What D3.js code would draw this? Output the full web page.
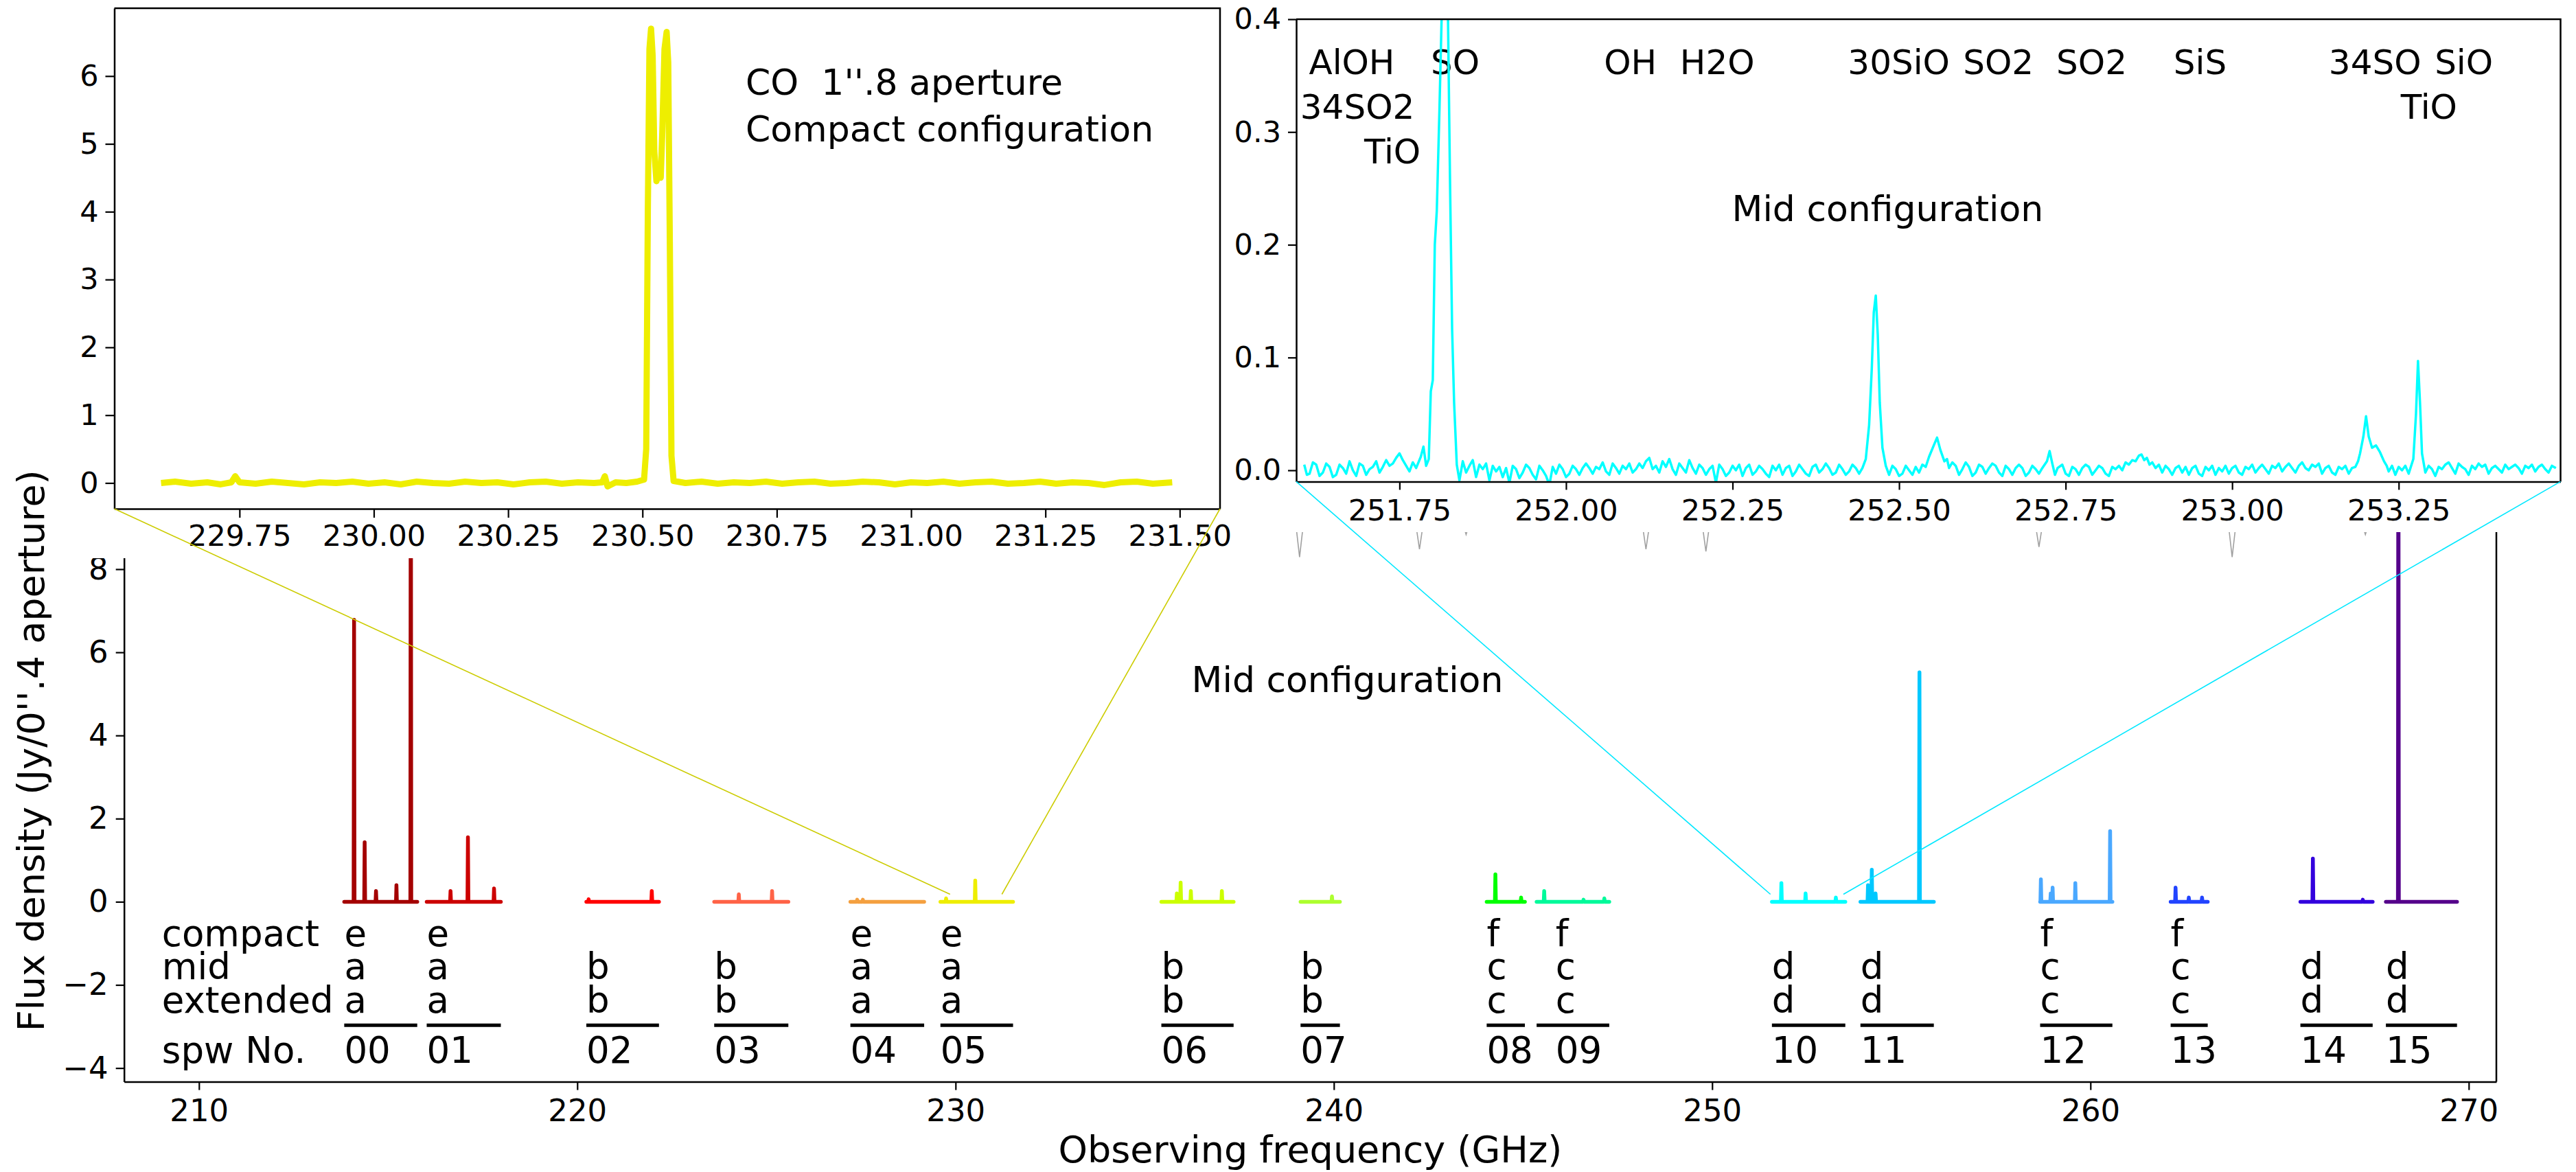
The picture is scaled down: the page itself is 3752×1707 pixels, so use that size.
<!DOCTYPE html>
<html><head><meta charset="utf-8">
<script src="https://cdn.jsdelivr.net/npm/d3@7"></script>
<style>body{margin:0;background:#fff} text{font-family:"DejaVu Sans",sans-serif}</style>
</head><body>
<script>
// ---------------- DATA ----------------
const spwNames  = ["00","01","02","03","04","05","06","07","08","09","10","11","12","13","14","15"];
const spwStart  = [213.84,216.02,220.24,223.62,227.22,229.60,235.44,239.12,244.04,245.36,251.58,253.92,258.67,262.12,265.55,267.81];
const spwEnd    = [215.77,217.98,222.16,225.58,229.17,231.52,237.35,240.16,245.05,247.28,253.52,255.86,260.58,263.10,267.46,269.69];
// frequency where each spw's table column is written
const spwLabelFreq = [213.84,216.02,220.24,223.62,227.22,229.60,235.44,239.12,244.04,245.86,251.58,253.92,258.67,262.12,265.55,267.81];
const spwColors = ["#a40000","#cc0000","#ff0000","#ff6347","#f4a040","#eeee00","#ccff00","#adff2f","#00ff00","#00fa9a","#00ffff","#00c8ff","#4aa8ff","#2244ff","#3300dd","#55008b"];
// spikes [frequency GHz, flux Jy] per spw
const spwSpikes = [
  [[214.10,6.78],[214.38,1.43],[214.68,0.26],[215.22,0.40],[215.60,14.0]],
  [[216.65,0.26],[217.11,1.55],[217.80,0.32]],
  [[220.30,0.06],[221.97,0.26]],
  [[224.27,0.18],[225.15,0.26]],
  [[227.40,0.05],[227.55,0.05]],
  [[229.75,0.08],[230.52,0.51]],
  [[235.85,0.20],[235.95,0.46],[236.22,0.26],[237.04,0.26]],
  [[239.95,0.13]],
  [[244.27,0.66],[244.95,0.10]],
  [[245.56,0.26],[246.60,0.05],[247.15,0.08]],
  [[251.83,0.45],[252.47,0.20],[253.27,0.10]],
  [[254.12,0.40],[254.22,0.77],[254.32,0.20],[255.48,5.52]],
  [[258.69,0.54],[258.95,0.20],[259.00,0.34],[259.60,0.45],[260.52,1.70]],
  [[262.25,0.34],[262.60,0.10],[262.95,0.10]],
  [[265.88,1.04],[267.20,0.05]],
  [[268.14,14.0]]
];
const compactCfg  = ["e","e","","","e","e","","","f","f","","","f","f","",""];
const midCfg      = ["a","a","b","b","a","a","b","b","c","c","d","d","c","c","d","d"];
const extendedCfg = ["a","a","b","b","a","a","b","b","c","c","d","d","c","c","d","d"];
const rowLabels   = ["compact","mid","extended","spw No."];

const mainXTicks = [210,220,230,240,250,260,270];
const mainYTicks = [-4,-2,0,2,4,6,8];

// CO inset spectrum [GHz, Jy]
const coSpectrum = [
  [229.604,0.00],[229.63,0.02],[229.66,-0.01],[229.69,0.01],[229.715,-0.02],[229.735,0.01],[229.742,0.10],[229.75,0.01],
  [229.78,-0.01],[229.81,0.02],[229.84,0.00],[229.87,-0.02],[229.90,0.01],[229.93,0.00],[229.96,0.02],[229.99,-0.01],
  [230.02,0.01],[230.05,-0.02],[230.08,0.02],[230.11,0.00],[230.14,-0.01],[230.17,0.02],[230.20,0.00],[230.23,0.01],
  [230.26,-0.02],[230.29,0.01],[230.32,0.02],[230.35,-0.01],[230.38,0.01],[230.41,0.00],[230.425,0.01],[230.43,0.10],
  [230.435,-0.05],[230.45,0.01],[230.47,0.00],[230.49,0.02],[230.503,0.05],[230.507,0.5],[230.510,4.0],[230.513,6.4],
  [230.516,6.70],[230.519,6.3],[230.522,4.9],[230.526,4.45],[230.530,4.55],[230.534,4.5],[230.537,5.2],[230.541,6.4],
  [230.545,6.65],[230.548,6.2],[230.551,3.5],[230.554,0.4],[230.558,0.03],[230.58,0.00],[230.61,0.02],[230.64,-0.01],
  [230.67,0.01],[230.70,0.00],[230.73,0.02],[230.76,-0.01],[230.79,0.01],[230.82,0.02],[230.85,-0.01],[230.88,0.00],
  [230.91,0.02],[230.94,0.01],[230.97,-0.02],[231.00,0.01],[231.03,0.00],[231.06,0.02],[231.09,-0.01],[231.12,0.01],
  [231.15,0.02],[231.18,-0.01],[231.21,0.00],[231.24,0.02],[231.27,-0.01],[231.30,0.01],[231.33,0.00],[231.36,-0.03],
  [231.39,0.01],[231.42,0.02],[231.45,-0.01],[231.486,0.01]
];
const coXTicks = [229.75,230.00,230.25,230.50,230.75,231.00,231.25,231.50];
const coYTicks = [0,1,2,3,4,5,6];

// Mid-configuration inset spectrum [GHz, Jy]
const midSpectrum = [
  [251.607,0.005],[251.611,-0.004],[251.615,-0.003],[251.620,0.007],[251.625,0.005],[251.630,-0.005],[251.635,-0.002],[251.640,0.006],
  [251.645,0.003],[251.650,-0.006],[251.655,-0.004],[251.660,0.005],[251.665,0.002],[251.670,-0.003],[251.675,0.008],[251.680,0.000],
  [251.685,-0.005],[251.690,0.006],[251.695,0.004],[251.700,-0.004],[251.705,0.001],[251.710,0.003],[251.715,0.008],[251.720,-0.002],
  [251.725,0.003],[251.730,0.009],[251.735,0.004],[251.740,0.006],[251.745,0.011],[251.750,0.015],[251.755,0.009],[251.760,0.004],
  [251.765,-0.001],[251.770,0.007],[251.775,0.002],[251.782,0.012],[251.786,0.021],[251.790,0.004],[251.794,0.010],[251.797,0.070],
  [251.800,0.080],[251.803,0.200],[251.806,0.230],[251.810,0.320],[251.814,0.420],[251.818,0.450],[251.822,0.440],[251.826,0.250],
  [251.829,0.125],[251.832,0.060],[251.836,0.005],[251.840,-0.009],[251.845,0.008],[251.850,-0.002],[251.855,0.004],[251.860,0.009],
  [251.865,-0.006],[251.870,0.005],[251.875,0.001],[251.880,0.006],[251.885,-0.009],[251.890,0.004],[251.895,-0.001],[251.900,0.003],
  [251.905,-0.006],[251.910,0.002],[251.915,-0.011],[251.920,0.004],[251.925,0.001],[251.930,-0.007],[251.935,-0.002],[251.940,0.005],
  [251.945,0.002],[251.950,-0.004],[251.955,-0.008],[251.960,0.004],[251.965,0.000],[251.970,-0.005],[251.975,-0.013],[251.980,0.003],
  [251.985,-0.003],[251.990,0.005],[251.995,0.001],[252.000,-0.006],[252.005,-0.003],[252.010,0.004],[252.015,0.001],[252.020,-0.004],
  [252.025,0.002],[252.030,0.006],[252.035,0.002],[252.040,-0.003],[252.045,0.003],[252.050,0.001],[252.055,0.007],[252.060,-0.001],
  [252.065,-0.004],[252.070,0.006],[252.075,0.002],[252.080,-0.003],[252.085,0.004],[252.090,0.001],[252.095,0.006],[252.100,-0.002],
  [252.105,0.001],[252.110,0.006],[252.115,0.002],[252.120,0.008],[252.125,0.011],[252.130,0.001],[252.135,0.004],[252.140,-0.002],
  [252.145,0.008],[252.150,0.003],[252.155,0.010],[252.160,0.001],[252.165,-0.004],[252.170,0.006],[252.175,0.002],[252.180,-0.002],
  [252.185,0.009],[252.190,0.002],[252.195,-0.003],[252.200,0.005],[252.205,0.002],[252.210,-0.004],[252.215,0.001],[252.220,0.004],
  [252.225,-0.011],[252.230,0.005],[252.235,0.001],[252.240,-0.005],[252.245,-0.002],[252.250,0.004],[252.255,0.000],[252.260,0.005],
  [252.265,-0.005],[252.270,0.002],[252.275,0.005],[252.280,-0.004],[252.285,-0.001],[252.290,0.004],[252.295,0.001],[252.300,-0.003],
  [252.305,-0.006],[252.310,0.004],[252.315,0.000],[252.320,0.005],[252.325,-0.004],[252.330,0.002],[252.335,0.004],[252.340,-0.005],
  [252.345,-0.001],[252.350,0.005],[252.355,0.001],[252.360,-0.003],[252.365,-0.005],[252.370,0.003],[252.375,0.005],[252.380,-0.002],
  [252.385,0.001],[252.390,0.006],[252.395,0.002],[252.400,-0.004],[252.405,-0.002],[252.410,0.005],[252.415,0.001],[252.420,-0.004],
  [252.425,-0.001],[252.430,0.005],[252.435,0.002],[252.440,-0.003],[252.445,0.002],[252.450,0.010],[252.455,0.040],[252.459,0.090],
  [252.462,0.140],[252.465,0.155],[252.468,0.120],[252.471,0.060],[252.475,0.020],[252.480,0.004],[252.485,-0.004],[252.490,0.004],
  [252.495,0.001],[252.500,-0.005],[252.505,-0.003],[252.510,0.004],[252.515,0.000],[252.520,-0.004],[252.525,0.003],[252.530,-0.002],
  [252.535,0.005],[252.540,0.003],[252.545,0.012],[252.552,0.022],[252.557,0.029],[252.562,0.018],[252.568,0.008],[252.572,0.010],
  [252.575,0.002],[252.580,0.007],[252.585,0.004],[252.590,-0.004],[252.595,0.001],[252.600,0.007],[252.605,0.003],[252.610,-0.005],
  [252.615,-0.002],[252.620,0.005],[252.625,0.003],[252.630,-0.003],[252.635,0.002],[252.640,0.006],[252.645,0.004],[252.650,-0.002],
  [252.655,-0.005],[252.660,0.004],[252.665,0.001],[252.670,-0.004],[252.675,0.002],[252.680,0.005],[252.685,0.002],[252.690,-0.005],
  [252.695,-0.002],[252.700,0.004],[252.705,0.001],[252.710,-0.003],[252.715,0.002],[252.722,0.008],[252.726,0.017],[252.730,0.006],
  [252.734,-0.004],[252.738,0.002],[252.745,0.005],[252.750,-0.003],[252.755,-0.005],[252.760,0.003],[252.765,0.001],[252.770,-0.004],
  [252.775,0.002],[252.780,0.005],[252.785,0.003],[252.790,-0.004],[252.795,0.000],[252.800,0.004],[252.805,0.002],[252.810,-0.003],
  [252.815,-0.005],[252.820,0.003],[252.825,0.001],[252.830,0.004],[252.835,0.000],[252.840,0.007],[252.845,0.005],[252.850,0.009],
  [252.855,0.008],[252.860,0.013],[252.864,0.014],[252.868,0.009],[252.872,0.011],[252.876,0.005],[252.880,0.007],[252.885,0.002],
  [252.890,0.005],[252.895,-0.002],[252.900,0.004],[252.905,0.001],[252.910,-0.004],[252.915,0.002],[252.920,0.004],[252.925,-0.002],
  [252.930,0.003],[252.935,-0.004],[252.940,0.002],[252.945,0.004],[252.950,-0.003],[252.955,-0.005],[252.960,0.003],[252.965,0.000],
  [252.970,0.004],[252.975,-0.004],[252.980,0.002],[252.985,-0.001],[252.990,0.004],[252.995,-0.003],[253.000,0.002],[253.005,0.004],
  [253.010,-0.002],[253.015,-0.004],[253.020,0.003],[253.025,0.001],[253.030,0.005],[253.035,-0.002],[253.040,0.002],[253.045,0.005],
  [253.050,0.001],[253.055,-0.003],[253.060,0.004],[253.065,0.002],[253.070,0.006],[253.075,-0.001],[253.080,0.003],[253.085,0.006],
  [253.090,0.002],[253.095,-0.002],[253.100,0.004],[253.105,0.007],[253.110,0.002],[253.115,0.000],[253.120,0.005],[253.125,0.003],
  [253.130,0.006],[253.135,-0.003],[253.140,0.002],[253.145,0.004],[253.150,-0.002],[253.155,-0.004],[253.160,0.003],[253.165,0.001],
  [253.170,0.004],[253.175,-0.003],[253.180,0.002],[253.185,0.003],[253.189,0.008],[253.192,0.015],[253.197,0.030],[253.201,0.048],
  [253.205,0.030],[253.210,0.020],[253.216,0.022],[253.222,0.016],[253.228,0.008],[253.232,0.004],[253.235,-0.001],[253.240,0.004],
  [253.245,-0.004],[253.250,0.003],[253.255,0.000],[253.260,0.004],[253.265,-0.003],[253.272,0.010],[253.276,0.050],[253.279,0.097],
  [253.282,0.060],[253.285,0.015],[253.290,-0.002],[253.295,0.004],[253.300,0.001],[253.305,-0.005],[253.310,0.003],[253.315,0.001],
  [253.320,0.005],[253.325,0.007],[253.330,0.002],[253.335,-0.003],[253.340,0.006],[253.345,0.003],[253.350,0.001],[253.355,-0.004],
  [253.360,0.004],[253.365,0.001],[253.370,0.006],[253.375,0.003],[253.380,0.005],[253.385,-0.003],[253.390,0.002],[253.395,0.004],
  [253.400,0.001],[253.405,-0.002],[253.410,0.005],[253.415,0.001],[253.420,0.003],[253.425,0.005],[253.430,0.002],[253.435,-0.003],
  [253.440,0.004],[253.445,0.002],[253.450,0.005],[253.455,-0.001],[253.460,0.003],[253.465,0.005],[253.470,0.001],[253.475,-0.002],
  [253.480,0.004],[253.486,0.002]
];
const midXTicks = [251.75,252.00,252.25,252.50,252.75,253.00,253.25];
const midYTicks = [0.0,0.1,0.2,0.3,0.4];
// line identifications [label, GHz (left edge), Jy (baseline)]
const lineLabels = [
  ["AlOH",251.614,0.351],["SO",251.797,0.351],["OH",252.057,0.351],["H2O",252.171,0.351],
  ["30SiO",252.423,0.351],["SO2",252.596,0.351],["SO2",252.736,0.351],["SiS",252.912,0.351],
  ["34SO",253.145,0.351],["SiO",253.304,0.351],["34SO2",251.601,0.312],["TiO",253.253,0.312],["TiO",251.697,0.272]
];
// line markers below the mid inset [GHz, tip Jy]
const markerFreqs = [251.60,251.78,251.85,252.12,252.21,252.71,253.00,253.20];
const markerTips  = [-0.077,-0.070,-0.057,-0.070,-0.072,-0.068,-0.077,-0.057];

// ---------------- LAYOUT ----------------
const W = 3752, H = 1707;
const M  = {left:180.7, right:3636, top:611, bottom:1575.6};
const I1 = {left:166.5, right:1777, top:12, bottom:741};
const I2 = {left:1888, right:3729.5, top:28, bottom:701.4};
const font = "DejaVu Sans";

const xMain = d3.scaleLinear().domain([208.02,270.73]).range([M.left,M.right]);
const yMain = d3.scaleLinear().domain([-4.33,11.6]).range([M.bottom,M.top]);
const x1 = d3.scaleLinear().domain([229.517,231.575]).range([I1.left,I1.right]);
const y1 = d3.scaleLinear().domain([-0.38,7.0]).range([I1.bottom,I1.top]);
const x2 = d3.scaleLinear().domain([251.595,253.493]).range([I2.left,I2.right]);
const y2 = d3.scaleLinear().domain([-0.01,0.4]).range([I2.bottom,I2.top]);

const svg = d3.select("body").append("svg").attr("width",W).attr("height",H)
  .attr("viewBox",`0 0 ${W} ${H}`);
svg.append("rect").attr("width",W).attr("height",H).attr("fill","#fff");
const defs = svg.append("defs");
function clip(id,b){defs.append("clipPath").attr("id",id).append("rect")
  .attr("x",b.left).attr("y",b.top).attr("width",b.right-b.left).attr("height",b.bottom-b.top);}
clip("cm",M); clip("c1",I1); clip("c2",I2);

function styleAxis(g,size){
  g.selectAll("text").attr("font-family",font).attr("font-size",size).attr("fill","#000");
  g.selectAll("line").attr("stroke","#000").attr("stroke-width",2.2);
  g.select(".domain").attr("stroke","#000").attr("stroke-width",2.5);
}

// ---------------- MAIN PLOT ----------------
const gm = svg.append("g");
const spikeHalf = 0.012;
const lineMain = d3.line().x(d=>xMain(d[0])).y(d=>yMain(d[1]));
const gSpec = gm.append("g").attr("clip-path","url(#cm)");
spwNames.forEach((n,i)=>{
  const pts=[[spwStart[i],0]];
  spwSpikes[i].slice().sort((a,b)=>a[0]-b[0]).forEach(([f,h])=>{pts.push([f-spikeHalf,0],[f,h],[f+spikeHalf,0]);});
  pts.push([spwEnd[i],0]);
  gSpec.append("path").attr("d",lineMain(pts)).attr("fill","none")
    .attr("stroke",spwColors[i]).attr("stroke-width",5.5)
    .attr("stroke-linejoin","round").attr("stroke-linecap","round");
});

// table
const rowBase = [-1.06,-1.86,-2.67,-3.88];
const tableFont = 53;
const rowLabelX = 209.02;
rowLabels.forEach((t,r)=>{
  gm.append("text").attr("x",xMain(rowLabelX)).attr("y",yMain(rowBase[r]))
    .attr("font-size",tableFont).text(t);
});
spwNames.forEach((n,i)=>{
  const cols=[compactCfg[i],midCfg[i],extendedCfg[i],n];
  cols.forEach((t,r)=>{ if(t) gm.append("text").attr("x",xMain(spwLabelFreq[i])).attr("y",yMain(rowBase[r]))
    .attr("font-size",tableFont).text(t); });
  gm.append("line").attr("x1",xMain(spwStart[i])).attr("x2",xMain(spwEnd[i]))
    .attr("y1",yMain(-2.97)).attr("y2",yMain(-2.97)).attr("stroke","#000").attr("stroke-width",5);
});
gm.append("text").attr("x",xMain(236.24)).attr("y",yMain(5.05)).attr("font-size",52).text("Mid configuration");

// axes
const ax = gm.append("g").attr("transform",`translate(0,${M.bottom})`)
  .call(d3.axisBottom(xMain).tickValues(mainXTicks).tickFormat(d3.format("d")).tickSize(12).tickSizeOuter(0).tickPadding(13));
styleAxis(ax,45);
const ay = gm.append("g").attr("transform",`translate(${M.left},0)`)
  .call(d3.axisLeft(yMain).tickValues(mainYTicks).tickFormat(d3.format("d")).tickSize(12).tickSizeOuter(0).tickPadding(11));
styleAxis(ay,45);
gm.append("line").attr("x1",M.right).attr("x2",M.right).attr("y1",M.top).attr("y2",M.bottom)
  .attr("stroke","#000").attr("stroke-width",2.5);

// line markers (mid inset frequencies)
markerFreqs.forEach((f,i)=>{
  const x=x2(f), yt=y2(-0.045), yb=y2(markerTips[i]);
  gm.append("path").attr("d",`M${x-6},${yt}L${x},${yb}L${x+6},${yt}`)
    .attr("fill","none").attr("stroke","#a0a0a0").attr("stroke-width",1.6);
});

// covers behind the insets (incl. their tick labels)
svg.append("rect").attr("x",95).attr("y",0).attr("width",1785-95).attr("height",813).attr("fill","#fff");
svg.append("rect").attr("x",1785).attr("y",0).attr("width",W-1785).attr("height",775).attr("fill","#fff");

// ---------------- INSET 1 : CO ----------------
const g1 = svg.append("g");
g1.append("rect").attr("x",I1.left).attr("y",I1.top).attr("width",I1.right-I1.left).attr("height",I1.bottom-I1.top).attr("fill","#fff");
g1.append("text").attr("x",x1(230.692)).attr("y",y1(5.724)).attr("font-size",52).style("white-space","pre").text("CO  1''.8 aperture");
g1.append("text").attr("x",x1(230.692)).attr("y",y1(5.036)).attr("font-size",52).text("Compact configuration");
g1.append("g").attr("clip-path","url(#c1)").append("path")
  .attr("d",d3.line().x(d=>x1(d[0])).y(d=>y1(d[1]))(coSpectrum))
  .attr("fill","none").attr("stroke","#eeee00").attr("stroke-width",9).attr("stroke-linejoin","round");
const a1x = g1.append("g").attr("transform",`translate(0,${I1.bottom})`)
  .call(d3.axisBottom(x1).tickValues(coXTicks).tickFormat(d3.format(".2f")).tickSize(13).tickSizeOuter(0).tickPadding(10));
styleAxis(a1x,43);
const a1y = g1.append("g").attr("transform",`translate(${I1.left},0)`)
  .call(d3.axisLeft(y1).tickValues(coYTicks).tickFormat(d3.format("d")).tickSize(13).tickSizeOuter(0).tickPadding(10));
styleAxis(a1y,43);
g1.append("path").attr("d",`M${I1.left},${I1.top}H${I1.right}V${I1.bottom}`).attr("fill","none").attr("stroke","#000").attr("stroke-width",2.5);

// ---------------- INSET 2 : Mid ----------------
const g2 = svg.append("g");
g2.append("rect").attr("x",I2.left).attr("y",I2.top).attr("width",I2.right-I2.left).attr("height",I2.bottom-I2.top).attr("fill","#fff");
lineLabels.forEach(([t,f,v])=>{
  g2.append("text").attr("x",x2(f)).attr("y",y2(v)).attr("font-size",50).text(t);
});
g2.append("text").attr("x",x2(252.249)).attr("y",y2(0.221)).attr("font-size",52).text("Mid configuration");
g2.append("g").attr("clip-path","url(#c2)").append("path")
  .attr("d",d3.line().x(d=>x2(d[0])).y(d=>y2(d[1]))(midSpectrum))
  .attr("fill","none").attr("stroke","#00ffff").attr("stroke-width",3.5).attr("stroke-linejoin","round");
const a2x = g2.append("g").attr("transform",`translate(0,${I2.bottom})`)
  .call(d3.axisBottom(x2).tickValues(midXTicks).tickFormat(d3.format(".2f")).tickSize(12).tickSizeOuter(0).tickPadding(14));
styleAxis(a2x,43);
const a2y = g2.append("g").attr("transform",`translate(${I2.left},0)`)
  .call(d3.axisLeft(y2).tickValues(midYTicks).tickFormat(d3.format(".1f")).tickSize(12).tickSizeOuter(0).tickPadding(10));
styleAxis(a2y,43);
g2.append("path").attr("d",`M${I2.left},${I2.top}H${I2.right}V${I2.bottom}`).attr("fill","none").attr("stroke","#000").attr("stroke-width",2.5);

// ---------------- CONNECTORS ----------------
const conn = [
  [I1.left,I1.bottom,xMain(229.855),yMain(0.18),"#cccc00"],
  [I1.right,I1.bottom,xMain(231.225),yMain(0.18),"#cccc00"],
  [I2.left,I2.bottom,xMain(251.54),yMain(0.18),"#00e8ff"],
  [I2.right,I2.bottom,xMain(253.47),yMain(0.18),"#00e8ff"]
];
conn.forEach(([a,b,c,d,col])=>svg.append("line").attr("x1",a).attr("y1",b).attr("x2",c).attr("y2",d)
  .attr("stroke",col).attr("stroke-width",1.6));

// ---------------- AXIS LABELS ----------------
svg.append("text").attr("x",(M.left+M.right)/2).attr("y",1693).attr("text-anchor","middle")
  .attr("font-size",54).text("Observing frequency (GHz)");
svg.append("text").attr("transform",`translate(64,${(M.top+M.bottom)/2}) rotate(-90)`).attr("text-anchor","middle")
  .attr("font-size",54).text("Flux density (Jy/0''.4 aperture)");
</script>
</body></html>
